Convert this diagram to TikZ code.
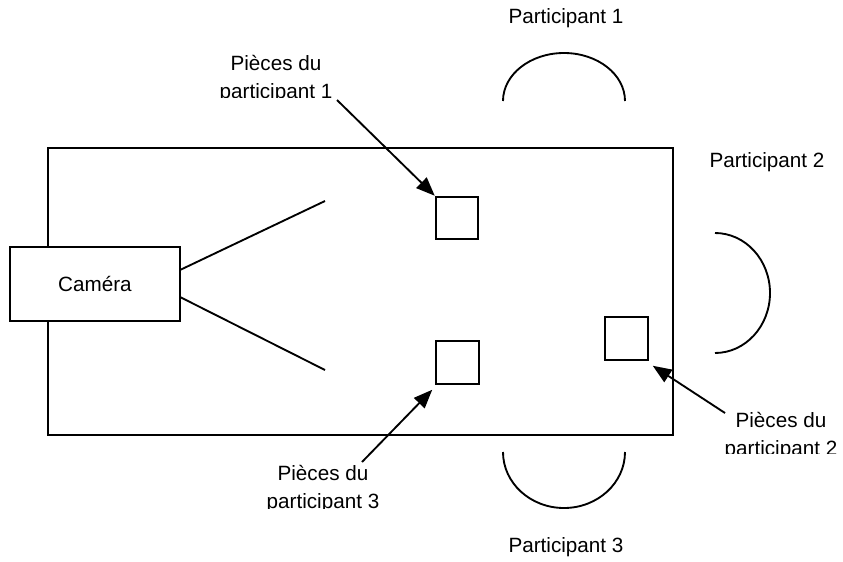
\documentclass[tikz,border=0pt]{standalone}
\usepackage{fontspec}
\setmainfont{Liberation Sans}
\usetikzlibrary{arrows.meta}
\begin{document}
\begin{tikzpicture}[x=0.75pt,y=-0.75pt,
  ln/.style={line width=1.4pt},
  box/.style={draw,line width=1.4pt,minimum width=32pt,minimum height=32pt,inner sep=0pt},
  lbl/.style={font=\fontsize{15.5}{21}\selectfont,align=center,inner sep=0pt},
  arr/.style={line width=1.4pt,-{Triangle[length=14pt,width=11pt]}}]
\useasboundingbox (0,0) rectangle (843,561);
% table
\draw[ln] (48,148) rectangle (673,435);
% camera
\node[draw,line width=1.4pt,minimum width=127.5pt,minimum height=55.5pt,inner sep=0pt,fill=white,
  font=\fontsize{15.5}{18}\selectfont] (cam) at (95,284) {Caméra};
\coordinate (v1) at (325,201);
\coordinate (v2) at (325,370);
\draw[ln] (180,270) -- (v1);
\draw[ln] (180,297) -- (v2);
% pieces
\node[box] (p1) at (457,218) {};
\node[box] (p3) at (457.5,362.5) {};
\node[box] (p2) at (626.5,338.5) {};
% participants
\draw[ln] (503,101) arc[start angle=180,end angle=360,x radius=61,y radius=48];
\draw[ln] (715,233) arc[start angle=-90,end angle=90,x radius=55,y radius=60];
\draw[ln] (503,452) arc[start angle=180,end angle=0,x radius=61,y radius=56];
\node[lbl] (t1) at (566,18) {Participant 1};
\node[lbl] (t2) at (767,162) {Participant 2};
\node[lbl] (t3) at (566,547) {Participant 3};
% labels (clipped like the original text boxes)
\begin{scope}
\clip (150,40) rectangle (420,97);
\node[lbl] (l1) at (276,79) {Pièces du\\participant 1};
\end{scope}
\begin{scope}
\clip (200,455) rectangle (440,508);
\node[lbl] (l3) at (323,489) {Pièces du\\participant 3};
\end{scope}
\begin{scope}
\clip (680,405) rectangle (843,453);
\node[lbl] (l2) at (781,436) {Pièces du\\participant 2};
\end{scope}
\coordinate (a1) at (337,100);
\coordinate (a3) at (362,462);
\coordinate (a2) at (725,413);
\draw[arr] (a1) -- (p1.north west);
\draw[arr] (a3) -- ([shift={(-3,5)}]p3.south west);
\draw[arr] (a2) -- ([shift={(4,5)}]p2.south east);
\end{tikzpicture}
\end{document}
